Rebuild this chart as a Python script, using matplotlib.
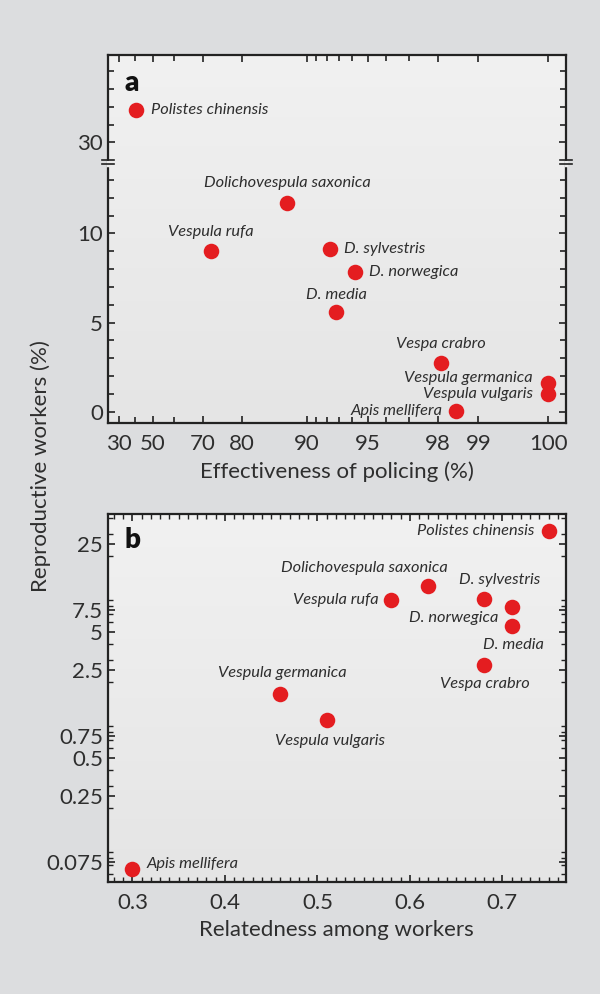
import numpy as np
import matplotlib.pyplot as plt
from matplotlib.ticker import FixedLocator, NullFormatter, LogLocator
import matplotlib.transforms as mtrans

plt.rcParams['font.family'] = ['Lato', 'DejaVu Sans']

# data
species = ['Polistes chinensis', 'Dolichovespula saxonica', 'Vespula rufa',
           'D. sylvestris', 'D. norwegica', 'D. media', 'Vespa crabro',
           'Vespula germanica', 'Vespula vulgaris', 'Apis mellifera']
policing = [41, 87.6, 72.4, 92.3, 94.2, 92.8, 98.1, 100, 100, 98.5]
reproductive = [31.8, 11.7, 9.0, 9.15, 7.85, 5.6, 2.75, 1.6, 1.0, 0.065]
relatedness = [0.75, 0.62, 0.58, 0.68, 0.71, 0.71, 0.68, 0.46, 0.51, 0.30]

xa_major = [30, 50, 70, 80, 90, 95, 98, 99, 100]
xa_minor = [40, 60, 91, 92, 93, 94, 96, 97]
ya_major = [0, 5, 10, 30]
ya_minor = list(range(0, 14)) + [31, 32, 33, 34]
yb_major = [0.075, 0.25, 0.5, 0.75, 2.5, 5, 7.5, 25]
yb_labels = ['0.075', '0.25', '0.5', '0.75', '2.5', '5', '7.5', '25']
xb_major = [0.3, 0.4, 0.5, 0.6, 0.7]

# label placement: (dx, dy) in pixels, horizontal alignment
lab_a = [(15, 0, 'left'), (0, 20, 'center'), (0, 19, 'center'), (14, 0, 'left'),
         (14, 0, 'left'), (0, 17, 'center'), (0, 19, 'center'), (-15, 5, 'right'),
         (-15, 0, 'right'), (-13, 0, 'right')]
lab_b = [(-14, 0, 'right'), (-64, 18, 'center'), (-13, 0, 'right'), (16, 19, 'center'),
         (-13, -11, 'right'), (2, -19, 'center'), (1, -19, 'center'), (2, 21, 'center'),
         (3, -21, 'center'), (14, 5, 'left')]

RED = '#e41d20'
TXT = '#2e2e2e'
BG = '#dcdddf'


def fwd_pol(x):
    x = np.asarray(x, dtype=float)
    return -np.log10(np.clip(101 - x, 1e-6, None))


def inv_pol(t):
    return 101 - 10 ** (-np.asarray(t, dtype=float))


def fwd_brk(y):
    y = np.asarray(y, dtype=float)
    return np.where(y < 14, y, np.where(y > 28.9, y - 14.9, 14.0))


def inv_brk(t):
    t = np.asarray(t, dtype=float)
    return np.where(t < 14, t, t + 14.9)


fig = plt.figure(figsize=(6, 9.94), dpi=100)
fig.patch.set_facecolor(BG)

ax_a = fig.add_axes([0.18, 0.5744, 0.7627, 0.3703])
ax_b = fig.add_axes([0.18, 0.1130, 0.7627, 0.3699])

grad = np.linspace(1, 0, 100).reshape(-1, 1)
gcmap = plt.cm.colors.LinearSegmentedColormap.from_list('g', ['#e5e5e5', '#f1f1f1'])
for ax in (ax_a, ax_b):
    ax.set_facecolor('#ebebeb')
    ax.imshow(grad, extent=[0, 1, 0, 1], transform=ax.transAxes, aspect='auto',
              cmap=gcmap, zorder=0)
    for s in ax.spines.values():
        s.set_linewidth(1.6)
        s.set_color('#222222')
    ax.tick_params(which='both', direction='in', top=True, right=True,
                   colors='#222222', labelcolor=TXT, labelsize=16, width=1.2)
    ax.tick_params(which='major', length=5)
    ax.tick_params(which='minor', length=4)

# panel a
ax_a.set_xscale('function', functions=(fwd_pol, inv_pol))
ax_a.set_yscale('function', functions=(fwd_brk, inv_brk))
ax_a.set_xlim(21.6, 100.16)
ax_a.set_ylim(-0.63, 34.9)
ax_a.scatter(policing, reproductive, s=125, color=RED, zorder=3, linewidths=0)
ax_a.xaxis.set_major_locator(FixedLocator(xa_major))
ax_a.xaxis.set_minor_locator(FixedLocator(xa_minor))
ax_a.set_xticklabels([str(v) for v in xa_major])
ax_a.xaxis.set_minor_formatter(NullFormatter())
ax_a.yaxis.set_major_locator(FixedLocator(ya_major))
ax_a.yaxis.set_minor_locator(FixedLocator(ya_minor))
ax_a.set_yticklabels([str(v) for v in ya_major])
ax_a.yaxis.set_minor_formatter(NullFormatter())
ax_a.tick_params(axis='x', pad=8)
ax_a.set_xlabel('Effectiveness of policing (%)', fontsize=16, color=TXT, labelpad=5)

for name, x, y, (dx, dy, ha) in zip(species, policing, reproductive, lab_a):
    ax_a.annotate(name, (x, y), xytext=(dx, dy), textcoords='offset pixels',
                  ha=ha, va='center', fontsize=11.8, style='italic', color=TXT, zorder=4)

# axis break marks
ytr = ax_a.get_yaxis_transform()
for xpos in (0, 1):
    ax_a.plot([xpos, xpos], [13.85, 14.15], transform=ytr, color='#ebebeb',
              lw=2.5, clip_on=False, zorder=5)
    for off in (-2, 2):
        tr = mtrans.offset_copy(ytr, fig=fig, y=off, units='dots')
        ax_a.plot([xpos - 0.013, xpos + 0.013], [14, 14], transform=tr,
                  color='#222222', lw=1.2, clip_on=False, zorder=6)

ax_a.text(0.035, 0.925, 'a', transform=ax_a.transAxes, fontsize=20,
          fontweight='heavy', color='#111111', va='center')

# panel b
ax_b.set_yscale('log')
ax_b.set_xlim(0.2735, 0.7685)
ax_b.set_ylim(0.052, 43.3)
ax_b.scatter(relatedness, reproductive, s=125, color=RED, zorder=3, linewidths=0)
ax_b.xaxis.set_major_locator(FixedLocator(xb_major))
ax_b.xaxis.set_minor_locator(FixedLocator(np.arange(0.28, 0.77, 0.01)))
ax_b.set_xticklabels([f'{v:.1f}' for v in xb_major])
ax_b.xaxis.set_minor_formatter(NullFormatter())
ax_b.yaxis.set_major_locator(FixedLocator(yb_major))
ax_b.yaxis.set_minor_locator(LogLocator(base=10, subs=np.arange(2, 10)))
ax_b.set_yticklabels(yb_labels)
ax_b.yaxis.set_minor_formatter(NullFormatter())
ax_b.tick_params(axis='x', pad=8)
ax_b.tick_params(which='minor', length=3.5, width=1.0)
ax_b.set_xlabel('Relatedness among workers', fontsize=16, color=TXT, labelpad=5)

for name, x, y, (dx, dy, ha) in zip(species, relatedness, reproductive, lab_b):
    ax_b.annotate(name, (x, y), xytext=(dx, dy), textcoords='offset pixels',
                  ha=ha, va='center', fontsize=11.8, style='italic', color=TXT, zorder=4)

ax_b.text(0.035, 0.93, 'b', transform=ax_b.transAxes, fontsize=20,
          fontweight='heavy', color='#111111', va='center')

fig.text(0.068, 0.531, 'Reproductive workers (%)', rotation=90, ha='center',
         va='center', fontsize=16, color=TXT)

fig.savefig('out.png', dpi=100, facecolor=BG)
